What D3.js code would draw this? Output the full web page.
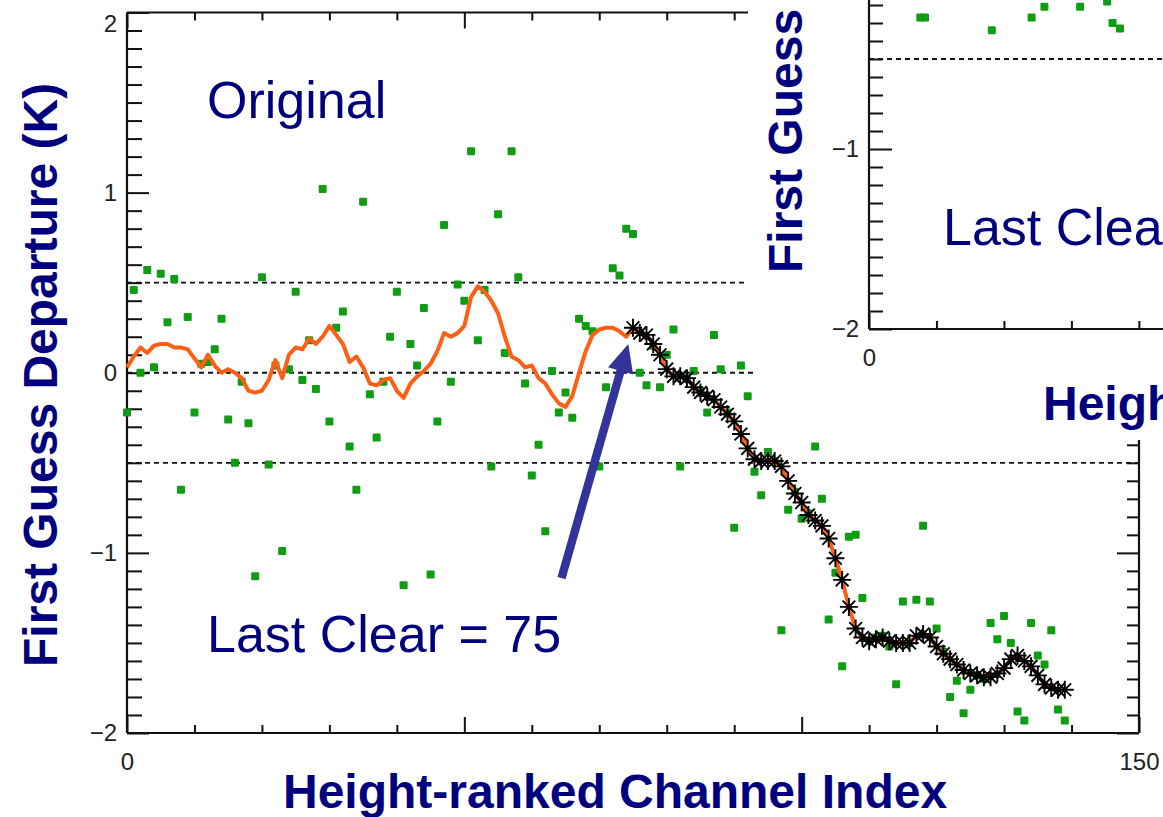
<!DOCTYPE html>
<html><head><meta charset="utf-8">
<script src="https://cdn.jsdelivr.net/npm/d3@7"></script>
<style>html,body{margin:0;padding:0;background:#fff;overflow:hidden}</style>
</head><body><svg id="c" width="1163" height="817"></svg>
<script>
// ---------------- data ----------------
// First-guess departure (K) of each height-ranked channel (index 0..139), green squares
const departures = [
 -0.22, 0.46, 0.00, 0.57, 0.03, 0.55, 0.28, 0.52,-0.65, 0.31,
 -0.22, 0.05, 0.06, 0.13, 0.30,-0.26,-0.50,-0.05,-0.28,-1.13,
  0.53,-0.51, 0.04,-0.99, 0.02, 0.45,-0.04, 0.18,-0.09, 1.02,
 -0.27, 0.25, 0.34,-0.41,-0.65, 0.95,-0.12,-0.36,-0.05, 0.20,
  0.45,-1.18, 0.16, 0.04, 0.36,-1.12,-0.27, 0.82,-0.05, 0.49,
  0.40, 1.23, 0.18, 0.46,-0.52, 0.88, 0.11, 1.23, 0.53,-0.06,
 -0.57,-0.40,-0.88, 0.01,-0.22,-0.11,-0.25, 0.30, 0.26, 0.23,
 -0.52,-0.08, 0.58, 0.54, 0.80, 0.77, 0.00,-0.07, 0.15,-0.08,
  0.10, 0.24,-0.52,-0.03, 0.01,-0.10,-0.22, 0.21, 0.02,-0.22,
 -0.86, 0.04,-0.13,-0.55,-0.68,-0.44,-0.49,-1.43,-0.76,-0.66,
 -0.81,-0.78,-0.41,-0.70,-1.37,-1.11,-1.63,-0.91,-0.90,-1.25,
 -1.49,-1.47,-1.46,-1.52,-1.73,-1.27,-1.50,-1.26,-0.85,-1.27,
 -1.42,-1.55,-1.80,-1.71,-1.89,-1.76,-1.68,-1.70,-1.39,-1.48,
 -1.35,-1.50,-1.88,-1.93,-1.39,-1.57,-1.62,-1.43,-1.87,-1.93
];
// Running (smoothed) departure, orange line
const smoothed = [
  0.03, 0.09, 0.14, 0.11, 0.15, 0.16, 0.16, 0.14, 0.14, 0.13,
  0.08, 0.03, 0.10, 0.04, 0.00, 0.02, 0.00,-0.03,-0.10,-0.11,
 -0.10,-0.04, 0.07,-0.03, 0.10, 0.14, 0.13, 0.19, 0.16, 0.20,
  0.26, 0.21, 0.16, 0.06, 0.09, 0.03,-0.06,-0.07,-0.04,-0.03,
 -0.10,-0.14,-0.06,-0.02, 0.01, 0.05, 0.12, 0.22, 0.20, 0.22,
  0.26, 0.42, 0.48, 0.45, 0.40, 0.33, 0.20, 0.09, 0.07, 0.03,
  0.04,-0.03,-0.06,-0.12,-0.17,-0.19,-0.13, 0.00, 0.12, 0.21,
  0.24, 0.25, 0.25, 0.23, 0.20, 0.25, 0.22, 0.21, 0.16, 0.10,
  0.02,-0.02,-0.02,-0.03,-0.08,-0.11,-0.13,-0.15,-0.19,-0.23,
 -0.27,-0.34,-0.42,-0.48,-0.49,-0.49,-0.49,-0.52,-0.60,-0.67,
 -0.72,-0.79,-0.82,-0.85,-0.92,-1.03,-1.15,-1.30,-1.42,-1.47,
 -1.49,-1.48,-1.47,-1.49,-1.50,-1.50,-1.50,-1.46,-1.45,-1.47,
 -1.52,-1.56,-1.59,-1.62,-1.65,-1.67,-1.68,-1.69,-1.69,-1.67,
 -1.64,-1.59,-1.57,-1.60,-1.63,-1.68,-1.73,-1.75,-1.76,-1.76
];
const lastClear = 75;
const thresholds = [0.5, 0, -0.5];
const yTickLabels = [-2, -1, 0, 1, 2];
const xTickLabels = [0, 150];          // 50 and 100 are blanked out in the original
const xMajorTicks = [0, 50, 100, 150];
// inset panel (second copy of the figure): visible green points [channel, departure]
const insetChannels = [7.6, 8.3, 18.2, 24.1, 26.0, 31.3, 35.3, 36.1, 37.2];
const insetDepartures = [-0.27, -0.27, -0.34, -0.27, -0.21, -0.21, -0.18, -0.30, -0.33];
const insetThreshold = [-0.5];
const insetYTickLabels = [-2, -1, 0];
const insetXTickLabels = [0];
// arrow annotation (data coords): from label to last clear channel
const arrowFrom = [64.4, -1.14];
const arrowTo = [74.3, 0.16];

// ---------------- drawing ----------------
const NAVY = "#00007f", GREEN = "#109c14", ORANGE = "#ff5f14", INK = "#111";
const TICKFONT = "'Liberation Sans', Arial, sans-serif";
const svg = d3.select("#c");
const fmt = d => d < 0 ? "\u2212" + Math.abs(d) : String(d);
const minorY = d3.range(-20, 21).filter(v => v % 10 !== 0).map(v => v / 10);
const minorX = d3.range(0, 151, 10).filter(v => v % 50 !== 0);

function drawPanel(g, x, y, opts) {
  g.selectAll("line.thr").data(opts.thresholds).join("line").attr("class", "thr")
    .attr("x1", x(0)).attr("x2", x(150)).attr("y1", d => y(d)).attr("y2", d => y(d))
    .attr("stroke", INK).attr("stroke-width", 1.8).attr("stroke-dasharray", "5,4");
  g.append("line").attr("x1", x(0)).attr("x2", x(0)).attr("y1", y(-2)).attr("y2", y(2)).attr("stroke", INK).attr("stroke-width", 2.2);
  g.append("line").attr("x1", x(0)).attr("x2", x(150)).attr("y1", y(-2)).attr("y2", y(-2)).attr("stroke", INK).attr("stroke-width", 2.2);
  if (opts.full) {
    g.append("line").attr("x1", x(150)).attr("x2", x(150)).attr("y1", y(-2)).attr("y2", y(2)).attr("stroke", INK).attr("stroke-width", 2.2);
    g.append("line").attr("x1", x(0)).attr("x2", x(150)).attr("y1", y(2)).attr("y2", y(2)).attr("stroke", INK).attr("stroke-width", 2.2);
  }
  const tickStyle = s => { s.select(".domain").remove(); s.selectAll("line").attr("stroke", INK).attr("stroke-width", 2); };
  g.append("g").attr("transform", `translate(${x(0)},0)`)
    .call(d3.axisRight(y).tickValues(minorY).tickSize(opts.yMinor).tickSizeOuter(0).tickFormat("")).call(tickStyle);
  g.append("g").attr("transform", `translate(${x(0)},0)`)
    .call(d3.axisRight(y).tickValues(opts.yLabels).tickSize(opts.yMajor).tickSizeOuter(0).tickFormat("")).call(tickStyle);
  if (opts.full) {
    g.append("g").attr("transform", `translate(${x(150)},0)`)
      .call(d3.axisLeft(y).tickValues(minorY).tickSize(opts.yMinor - 3).tickSizeOuter(0).tickFormat("")).call(tickStyle);
    g.append("g").attr("transform", `translate(${x(150)},0)`)
      .call(d3.axisLeft(y).tickValues(opts.yLabels).tickSize(opts.yMajor).tickSizeOuter(0).tickFormat("")).call(tickStyle);
    g.append("g").attr("transform", `translate(0,${y(2)})`)
      .call(d3.axisBottom(x).tickValues(minorX).tickSize(8).tickSizeOuter(0).tickFormat("")).call(tickStyle);
    g.append("g").attr("transform", `translate(0,${y(2)})`)
      .call(d3.axisBottom(x).tickValues(xMajorTicks).tickSize(16).tickSizeOuter(0).tickFormat("")).call(tickStyle);
  }
  g.append("g").attr("transform", `translate(0,${y(-2)})`)
    .call(d3.axisTop(x).tickValues(minorX).tickSize(8).tickSizeOuter(0).tickFormat("")).call(tickStyle);
  g.append("g").attr("transform", `translate(0,${y(-2)})`)
    .call(d3.axisTop(x).tickValues(xMajorTicks).tickSize(16).tickSizeOuter(0).tickFormat("")).call(tickStyle);
  const yl = g.append("g").attr("transform", `translate(${x(0)},0)`)
    .call(d3.axisLeft(y).tickValues(opts.yLabels).tickSize(0).tickPadding(10).tickFormat(fmt));
  yl.select(".domain").remove();
  yl.selectAll("text").attr("font-family", TICKFONT).attr("font-size", 24).attr("fill", "#222");
  yl.selectAll(".tick").filter(d => d === 2).select("text").attr("dy", "0.8em");
  const xl = g.append("g").attr("transform", `translate(0,${y(-2)})`)
    .call(d3.axisBottom(x).tickValues(opts.xLabels).tickSize(0).tickPadding(20).tickFormat(fmt));
  xl.select(".domain").remove();
  xl.selectAll("text").attr("font-family", TICKFONT).attr("font-size", 24).attr("fill", "#222");
}

function star(r) {
  const d = r * Math.SQRT1_2;
  return `M${-r},0L${r},0M0,${-r}L0,${r}M${-d},${-d}L${d},${d}M${-d},${d}L${d},${-d}`;
}

// ---- main panel ----
const x = d3.scaleLinear().domain([0, 150]).range([127, 1139]);
const y = d3.scaleLinear().domain([-2, 2]).range([733, 12.5]);
const main = svg.append("g");
drawPanel(main, x, y, { thresholds, yLabels: yTickLabels, xLabels: xTickLabels, yMinor: 15, yMajor: 22, full: true });

main.append("g").selectAll("rect").data(departures).join("rect")
  .attr("x", (d, i) => x(i) - 4).attr("y", d => y(d) - 4)
  .attr("width", 8).attr("height", 8).attr("rx", 1.2).attr("fill", GREEN);

const line = d3.line().x((d, i) => x(i)).y(d => y(d)).curve(d3.curveLinear);
main.append("path").datum(smoothed).attr("d", line)
  .attr("fill", "none").attr("stroke", ORANGE).attr("stroke-width", 4).attr("stroke-linejoin", "round");

const cloudy = smoothed.map((v, i) => [i, v]).filter(d => d[0] >= lastClear);
main.append("g").selectAll("path").data(cloudy).join("path")
  .attr("transform", d => `translate(${x(d[0])},${y(d[1])})`)
  .attr("d", star(9)).attr("fill", "none").attr("stroke", "#000").attr("stroke-width", 1.9);

main.append("text").attr("x", 207).attr("y", 118).attr("fill", NAVY)
  .attr("font-family", "'Liberation Sans', Arial, sans-serif").attr("font-size", 52).text("Original");
main.append("text").attr("x", 207).attr("y", 652).attr("fill", NAVY)
  .attr("font-family", "'Liberation Sans', Arial, sans-serif").attr("font-size", 52).text("Last Clear = " + lastClear);

(function () {
  const x0 = x(arrowFrom[0]), y0 = y(arrowFrom[1]), x1 = x(arrowTo[0]), y1 = y(arrowTo[1]);
  const dx = x1 - x0, dy = y1 - y0, L = Math.hypot(dx, dy), ux = dx / L, uy = dy / L, px = -uy, py = ux;
  const hl = 28, hw = 13, sw = 4.2;
  const bx = x1 - ux * hl, by = y1 - uy * hl;
  const pts = [
    [x0 + px * sw, y0 + py * sw], [bx + px * sw, by + py * sw], [bx + px * hw, by + py * hw], [x1, y1],
    [bx - px * hw, by - py * hw], [bx - px * sw, by - py * sw], [x0 - px * sw, y0 - py * sw]
  ];
  main.append("path").attr("d", "M" + pts.map(p => p.join(",")).join("L") + "Z").attr("fill", "#33349a");
})();

main.append("text").attr("transform", "translate(57,667) rotate(-90)").attr("fill", NAVY)
  .attr("font-family", "'Liberation Sans', Arial, sans-serif").attr("font-weight", "bold").attr("font-size", 48)
  .text("First Guess Departure (K)");
main.append("text").attr("x", 283).attr("y", 808).attr("fill", NAVY)
  .attr("font-family", "'Liberation Sans', Arial, sans-serif").attr("font-weight", "bold").attr("font-size", 48)
  .text("Height-ranked Channel Index");

// ---- inset panel (overlapping copy, upper right) ----
const inset = svg.append("g");
inset.append("path").attr("d", "M748,0H1163V440H757V330H748Z").attr("fill", "#fff");
const xi = d3.scaleLinear().domain([0, 150]).range([869, 1881]);
const yi = d3.scaleLinear().domain([-2, 2]).range([329, 329 - 720]);
drawPanel(inset, xi, yi, { thresholds: insetThreshold, yLabels: insetYTickLabels, xLabels: insetXTickLabels, yMinor: 14, yMajor: 23, full: false });
inset.append("g").selectAll("rect").data(insetDepartures).join("rect")
  .attr("x", (d, i) => xi(insetChannels[i]) - 4).attr("y", d => yi(d) - 4)
  .attr("width", 8).attr("height", 8).attr("rx", 1.2).attr("fill", GREEN);
inset.append("text").attr("x", 943).attr("y", 245).attr("fill", NAVY)
  .attr("font-family", "'Liberation Sans', Arial, sans-serif").attr("font-size", 52).text("Last Clear");
inset.append("text").attr("transform", "translate(802,273) rotate(-90)").attr("fill", NAVY)
  .attr("font-family", "'Liberation Sans', Arial, sans-serif").attr("font-weight", "bold").attr("font-size", 48)
  .text("First Guess Departure (K)");
inset.append("text").attr("x", 1043).attr("y", 420).attr("fill", NAVY)
  .attr("font-family", "'Liberation Sans', Arial, sans-serif").attr("font-weight", "bold").attr("font-size", 48)
  .text("Height-ranked Channel Index");
</script></body></html>
